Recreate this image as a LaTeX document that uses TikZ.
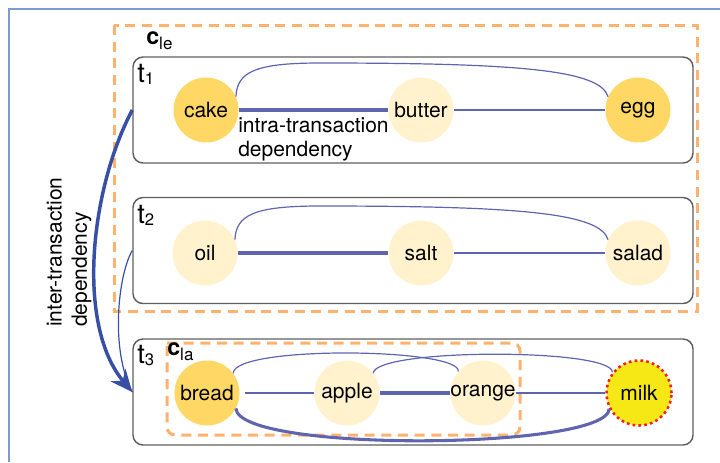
\documentclass[tikz,border=0pt]{standalone}
\usepackage{fontspec}
\setmainfont{TeX Gyre Heros}
\usetikzlibrary{arrows.meta}

\definecolor{framec}{RGB}{125,155,210}
\definecolor{clusterc}{RGB}{255,178,110}
\definecolor{boxc}{RGB}{95,95,95}
\definecolor{keyc}{RGB}{255,215,100}
\definecolor{plainc}{RGB}{255,242,204}
\definecolor{milkc}{RGB}{245,232,20}
\definecolor{dotc}{RGB}{240,30,40}
\definecolor{depc}{RGB}{95,100,175}
\definecolor{interc}{RGB}{55,80,165}

\newcommand\itemfont{\fontsize{15.75}{18}\selectfont}
\newcommand\tlabel[1]{{\fontsize{20.5}{22}\selectfont t}\raisebox{-2pt}{\fontsize{12.5}{13}\selectfont #1}}
\newcommand\clabel[1]{{\fontsize{17.5}{18}\selectfont\bfseries c}\raisebox{-3.75pt}{\fontsize{12.75}{13}\selectfont #1}}

\begin{document}
\begin{tikzpicture}[x=0.75pt,y=-0.75pt,
  frame/.style={draw=framec, line width=0.8pt},
  cluster/.style={draw=clusterc, line width=2.25pt, dash pattern=on 7.5pt off 5pt},
  tbox/.style={draw=boxc, line width=1.1pt, rounded corners=7.5pt,
    minimum width=420pt, minimum height=79.5pt, inner sep=0pt},
  item/.style={circle, inner sep=0pt, minimum size=48.75pt, font=\itemfont},
  key/.style={item, fill=keyc},
  plain/.style={item, fill=plainc},
  target/.style={item, fill=milkc, draw=dotc, line width=1.9pt,
    dash pattern=on 2pt off 2.4pt},
  dep/.style={draw=depc, line width=0.9pt},
  strong/.style={draw=depc, line width=2.3pt},
  interthin/.style={draw=interc, line width=0.9pt},
  inter/.style={draw=interc, line width=2.6pt, -{Stealth[length=16.5pt,width=14.5pt]}},
  lbl/.style={inner sep=0pt},
  note/.style={inner sep=0pt, align=left, font=\itemfont}
]
\useasboundingbox (0,0) rectangle (720,462);

% outer frame
\draw[frame] (720,9) -- (9,9) -- (9,462);

% cluster of the first two transactions
\draw[cluster] (114,25) rectangle (697,311);
\node[lbl, anchor=base west] (cle) at (146,44) {\clabel{le}};

% transactions
\node[tbox] (t1) at (413,110) {};
\node[tbox] (t2) at (413,250.5) {};
\node[tbox] (t3) at (413,392) {};
\node[lbl, anchor=base west] (lt1) at (137,82) {\tlabel{1}};
\node[lbl, anchor=base west] (lt2) at (137,223) {\tlabel{2}};
\node[lbl, anchor=base west] (lt3) at (137,363) {\tlabel{3}};

% cluster inside t3
\draw[cluster] (167,343) [rounded corners=6pt] -- (520,343) -- (520,435) -- (167,435) -- (167,343);
\node[lbl, anchor=base west] (cla) at (167,355) {\clabel{la}};

% items
\node[key]   (cake)   at (206,110) {cake};
\node[plain] (butter) at (421,110) {butter};
\node[key]   (egg)    at (638,110) {egg};
\node[plain] (oil)    at (205,253) {oil};
\node[plain] (salt)   at (421,253) {salt};
\node[plain] (salad)  at (638,253) {salad};
\node[key]   (bread)  at (207,393) {bread};
\node[plain] (apple)  at (347,393) {apple};
\node[plain] (orange) at (483,393) {\makebox[40pt]{orange}};
\node[target] (milk)  at (639,393) {milk};

% dependencies in t1
\draw[strong] (cake) -- (butter);
\draw[dep] (butter) -- (egg);
\draw[dep] (cake.24) .. controls (237,72) and (255,63) .. (320,63)
  .. controls (520,63) and (600,70) .. (egg.156);
\node[note, anchor=north west] (intra) at (238,117) {intra-transaction\\dependency};

% dependencies in t2
\draw[strong] (oil) -- (salt);
\draw[dep] (salt) -- (salad);
\draw[dep] (oil.24) .. controls (236,215) and (254,206) .. (320,206)
  .. controls (520,206) and (600,213) .. (salad.156);

% dependencies in t3
\draw[dep, shorten <=4pt] (bread) -- (apple);
\draw[strong] (apple) -- (orange);
\draw[dep] (orange) -- (milk);
\draw[dep] (bread.37) .. controls (234,345) and (462,348) .. (orange.139);
\draw[dep] (apple.37) .. controls (375,348) and (612,348) .. (milk.142);
\draw[strong] (bread.-28) .. controls (238,453) and (608,450) .. (milk.-152);

% dependencies between transactions
\draw[interthin] (t2.west) .. controls (118,275) and (110,350) .. (t3.west);
\draw[inter] (t1.west) .. controls (90,190) and (76,325) .. (t3.west);
\node[note, rotate=90, anchor=north west, font=\fontsize{15.75}{19}\selectfont] (interlbl) at (46.5,327) {inter-transaction\\dependency};
\end{tikzpicture}
\end{document}
